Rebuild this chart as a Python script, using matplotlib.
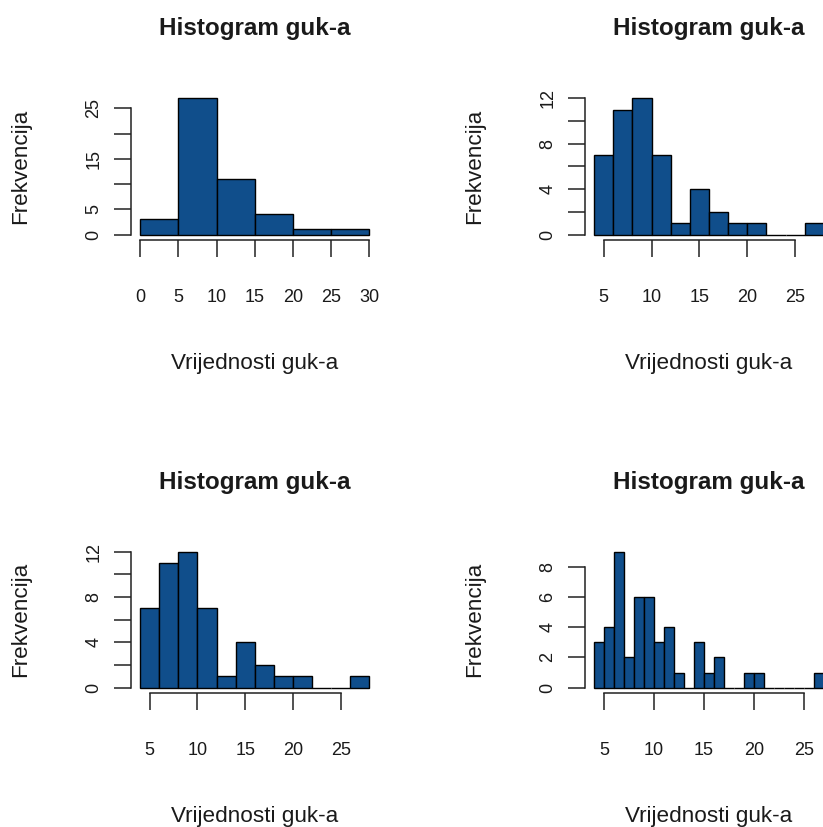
import numpy as np
import matplotlib
matplotlib.use('Agg')
import matplotlib.pyplot as plt

plt.rcParams['font.family'] = ['Liberation Sans', 'DejaVu Sans']

# histogram data (bin edges + counts), one set per panel
edges_a = [0, 5, 10, 15, 20, 25, 30]
counts_a = [3, 27, 11, 4, 1, 1]

edges_b = [4, 6, 8, 10, 12, 14, 16, 18, 20, 22, 24, 26, 28]
counts_b = [7, 11, 12, 7, 1, 4, 2, 1, 1, 0, 0, 1]

edges_c = [4, 6, 8, 10, 12, 14, 16, 18, 20, 22, 24, 26, 28]
counts_c = [7, 11, 12, 7, 1, 4, 2, 1, 1, 0, 0, 1]

edges_d = list(range(4, 28))
counts_d = [3, 4, 9, 2, 6, 6, 3, 4, 1, 0, 3, 1, 2, 0, 0, 1, 1, 0, 0, 0, 0, 0, 1]

xticks_a = [0, 5, 10, 15, 20, 25, 30]
xticks_b = [5, 10, 15, 20, 25]
yticks_a = [0, 5, 10, 15, 20, 25]
ylabels_a = ['0', '5', '', '15', '', '25']
yticks_b = [0, 2, 4, 6, 8, 10, 12]
ylabels_b = ['0', '', '4', '', '8', '', '12']
yticks_d = [0, 2, 4, 6, 8]
ylabels_d = ['0', '2', '4', '6', '8']

naslov = 'Histogram guk-a'
xlab = 'Vrijednosti guk-a'
ylab = 'Frekvencija'
boja = '#104E8B'   # dodgerblue4
tekst = '#1a1a1a'

W, H = 823, 827
fig = plt.figure(figsize=(W / 100, H / 100), dpi=100)

# plot regions in pixels: (left, top, width, height)
paneli = [
    ((131, 92.7, 247.5, 147.3), edges_a, counts_a, xticks_a, yticks_a, ylabels_a),
    ((585, 92.7, 248.0, 147.3), edges_b, counts_b, xticks_b, yticks_b, ylabels_b),
    ((131, 546.4, 247.5, 146.7), edges_c, counts_c, xticks_b, yticks_b, ylabels_b),
    ((585, 546.4, 248.0, 146.7), edges_d, counts_d, xticks_b, yticks_d, ylabels_d),
]

for (x0, y0, w, h), edges, counts, xt, yt, yl in paneli:
    ax = fig.add_axes([x0 / W, 1 - (y0 + h) / H, w / W, h / H])
    ax.hist(edges[:-1], bins=edges, weights=counts, color=boja,
            edgecolor='black', linewidth=1.0)

    r = edges[-1] - edges[0]
    ax.set_xlim(edges[0] - 0.04 * r, edges[-1] + 0.04 * r)
    m = max(counts)
    ax.set_ylim(-0.04 * m, 1.04 * m)

    for s in ['top', 'right']:
        ax.spines[s].set_visible(False)
    ax.spines['left'].set_bounds(yt[0], yt[-1])
    ax.spines['bottom'].set_bounds(xt[0], xt[-1])
    ax.spines['left'].set_linewidth(1.1)
    ax.spines['bottom'].set_linewidth(1.1)
    ax.spines['left'].set_color('#222222')
    ax.spines['bottom'].set_color('#222222')

    ax.set_xticks(xt)
    ax.set_xticklabels([str(v) for v in xt], fontsize=13, color=tekst)
    ax.set_yticks(yt)
    ax.set_yticklabels(yl, fontsize=13, rotation=90, va='center', color=tekst)
    ax.tick_params(axis='x', length=12, width=1.1, pad=23.5, color='#222222')
    ax.tick_params(axis='y', length=12, width=1.1, pad=8.5, color='#222222')

    ax.set_title(naslov, fontsize=17.5, fontweight='bold', pad=41.5, color=tekst)
    ax.annotate(xlab, xy=(0.5, 0), xycoords='axes fraction',
                xytext=(0, -(363 - 240) * 0.72), textcoords='offset points',
                ha='center', va='center', fontsize=16.2, color=tekst)
    ax.annotate(ylab, xy=(0, 0.5), xycoords='axes fraction',
                xytext=(-(131 - 21) * 0.72, 0), textcoords='offset points',
                ha='center', va='center', rotation=90, fontsize=16.2, color=tekst)

plt.savefig('out.png', dpi=100)
